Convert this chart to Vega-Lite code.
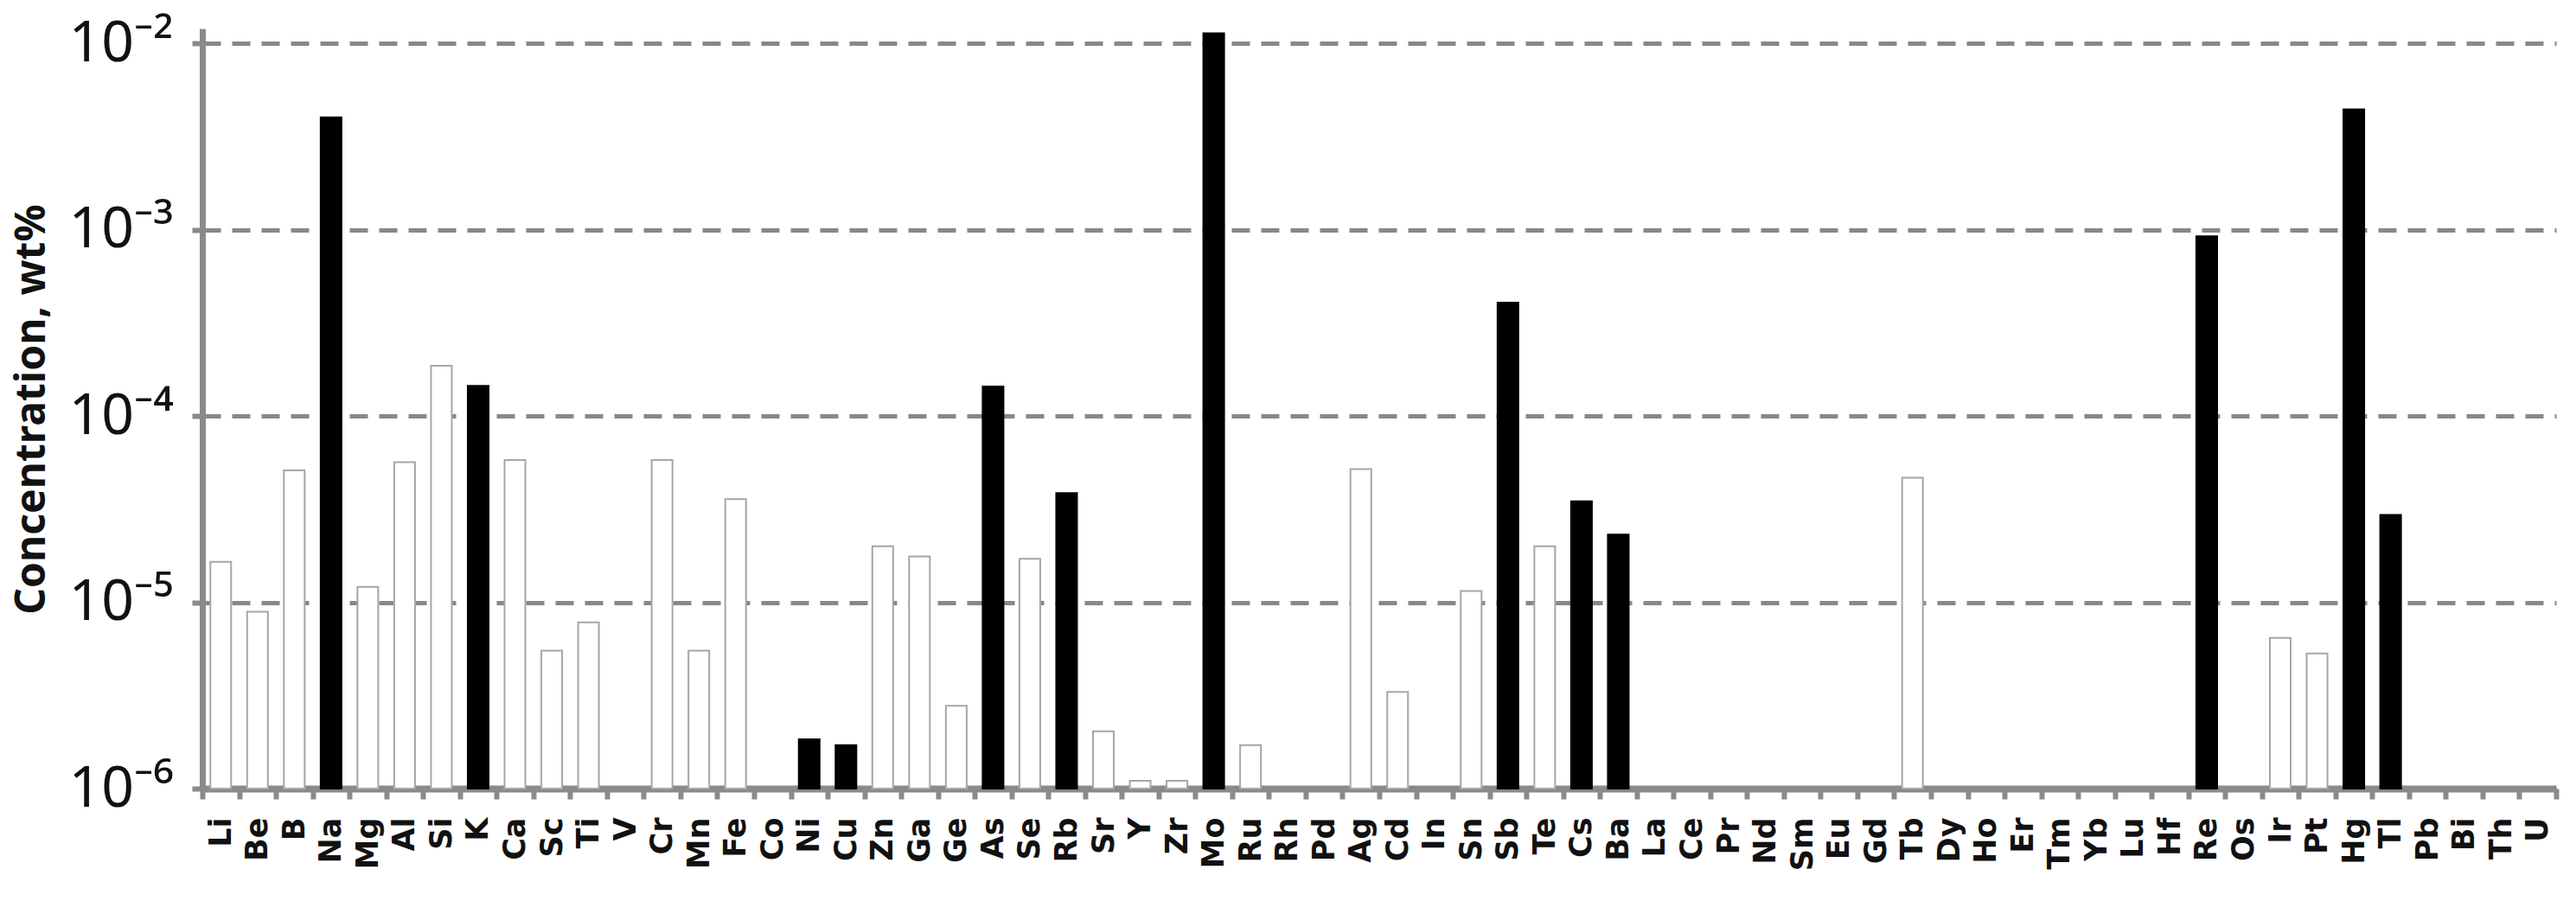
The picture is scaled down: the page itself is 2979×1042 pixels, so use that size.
{
  "$schema": "https://vega.github.io/schema/vega-lite/v6.json",
  "width": 2722,
  "height": 879,
  "autosize": {"type": "none"},
  "padding": {"left": 234, "top": 33, "right": 23, "bottom": 130},
  "background": "white",
  "config": {"view": {"stroke": null}},
  "data": {
    "values": [
      {"element": "Li", "conc": 1.65e-5, "group": "white"},
      {"element": "Be", "conc": 8.9e-6, "group": "white"},
      {"element": "B", "conc": 5.1e-5, "group": "white"},
      {"element": "Na", "conc": 4.0e-3, "group": "black"},
      {"element": "Mg", "conc": 1.21e-5, "group": "white"},
      {"element": "Al", "conc": 5.65e-5, "group": "white"},
      {"element": "Si", "conc": 1.86e-4, "group": "white"},
      {"element": "K", "conc": 1.45e-4, "group": "black"},
      {"element": "Ca", "conc": 5.8e-5, "group": "white"},
      {"element": "Sc", "conc": 5.5e-6, "group": "white"},
      {"element": "Ti", "conc": 7.8e-6, "group": "white"},
      {"element": "Cr", "conc": 5.8e-5, "group": "white"},
      {"element": "Mn", "conc": 5.5e-6, "group": "white"},
      {"element": "Fe", "conc": 3.58e-5, "group": "white"},
      {"element": "Ni", "conc": 1.84e-6, "group": "black"},
      {"element": "Cu", "conc": 1.71e-6, "group": "black"},
      {"element": "Zn", "conc": 2.0e-5, "group": "white"},
      {"element": "Ga", "conc": 1.76e-5, "group": "white"},
      {"element": "Ge", "conc": 2.78e-6, "group": "white"},
      {"element": "As", "conc": 1.44e-4, "group": "black"},
      {"element": "Se", "conc": 1.71e-5, "group": "white"},
      {"element": "Rb", "conc": 3.85e-5, "group": "black"},
      {"element": "Sr", "conc": 2.03e-6, "group": "white"},
      {"element": "Y", "conc": 1.1e-6, "group": "white"},
      {"element": "Zr", "conc": 1.1e-6, "group": "white"},
      {"element": "Mo", "conc": 1.13e-2, "group": "black"},
      {"element": "Ru", "conc": 1.71e-6, "group": "white"},
      {"element": "Ag", "conc": 5.19e-5, "group": "white"},
      {"element": "Cd", "conc": 3.3e-6, "group": "white"},
      {"element": "Sn", "conc": 1.15e-5, "group": "white"},
      {"element": "Sb", "conc": 4.06e-4, "group": "black"},
      {"element": "Te", "conc": 2.0e-5, "group": "white"},
      {"element": "Cs", "conc": 3.48e-5, "group": "black"},
      {"element": "Ba", "conc": 2.31e-5, "group": "black"},
      {"element": "Tb", "conc": 4.66e-5, "group": "white"},
      {"element": "Re", "conc": 9.2e-4, "group": "black"},
      {"element": "Ir", "conc": 6.43e-6, "group": "white"},
      {"element": "Pt", "conc": 5.31e-6, "group": "white"},
      {"element": "Hg", "conc": 4.42e-3, "group": "black"},
      {"element": "Tl", "conc": 2.94e-5, "group": "black"}
    ]
  },
  "mark": {"type": "bar", "width": {"band": 0.565}, "strokeWidth": 2},
  "encoding": {
    "x": {
      "field": "element",
      "type": "nominal",
      "sort": null,
      "scale": {
        "domain": ["Li","Be","B","Na","Mg","Al","Si","K","Ca","Sc","Ti","V","Cr","Mn","Fe","Co","Ni","Cu","Zn","Ga","Ge","As","Se","Rb","Sr","Y","Zr","Mo","Ru","Rh","Pd","Ag","Cd","In","Sn","Sb","Te","Cs","Ba","La","Ce","Pr","Nd","Sm","Eu","Gd","Tb","Dy","Ho","Er","Tm","Yb","Lu","Hf","Re","Os","Ir","Pt","Hg","Tl","Pb","Bi","Th","U"],
        "paddingInner": 0,
        "paddingOuter": 0
      },
      "axis": {
        "title": null,
        "grid": false,
        "domainColor": "#8a8a8a",
        "domainWidth": 8,
        "tickBand": "extent",
        "tickColor": "#8a8a8a",
        "tickSize": 12,
        "tickWidth": 6,
        "labelAngle": -90,
        "labelAlign": "right",
        "labelBaseline": "middle",
        "labelFont": "DejaVu Sans",
        "labelFontWeight": "bold",
        "labelFontSize": 35,
        "labelColor": "#111111",
        "labelPadding": 21,
        "labelOverlap": false
      }
    },
    "y": {
      "field": "conc",
      "type": "quantitative",
      "scale": {"type": "log", "domain": [0.000001, 0.012], "nice": false},
      "axis": {
        "values": [0.000001, 0.00001, 0.0001, 0.001, 0.01],
        "labelExpr": "datum.value > 0.005 ? '10⁻²' : datum.value > 0.0005 ? '10⁻³' : datum.value > 0.00005 ? '10⁻⁴' : datum.value > 0.000005 ? '10⁻⁵' : '10⁻⁶'",
        "labelFont": "Noto Sans",
        "labelFontSize": 66,
        "labelColor": "#111111",
        "labelPadding": 22,
        "domainColor": "#8a8a8a",
        "domainWidth": 7,
        "tickColor": "#8a8a8a",
        "tickSize": 12,
        "tickWidth": 6,
        "grid": true,
        "gridColor": "#888888",
        "gridWidth": 5,
        "gridDash": [21, 13],
        "title": "Concentration, wt%",
        "titleFont": "Noto Sans",
        "titleFontWeight": "bold",
        "titleFontSize": 48,
        "titleColor": "#111111",
        "titleX": -197,
        "titleY": 440,
        "titleAngle": -90,
        "titleAlign": "center",
        "titleBaseline": "middle"
      }
    },
    "y2": {"datum": 0.000001},
    "fill": {
      "field": "group",
      "type": "nominal",
      "scale": {"domain": ["black", "white"], "range": ["#000000", "#ffffff"]},
      "legend": null
    },
    "stroke": {
      "field": "group",
      "type": "nominal",
      "scale": {"domain": ["black", "white"], "range": ["#000000", "#a6a6a6"]},
      "legend": null
    }
  }
}
